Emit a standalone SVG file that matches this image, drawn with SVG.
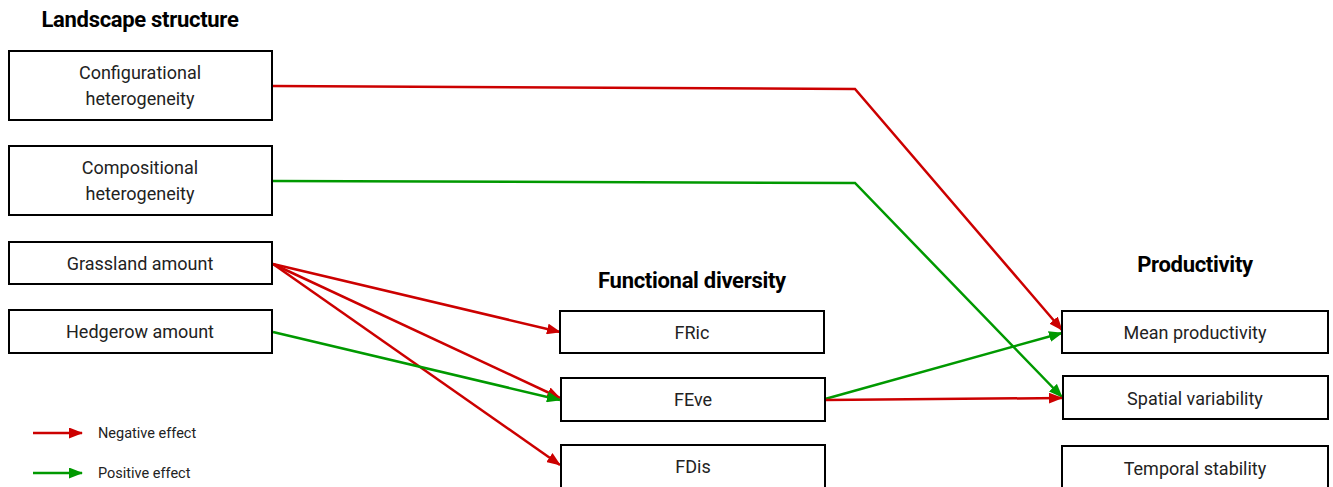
<svg xmlns="http://www.w3.org/2000/svg" width="1333" height="487" viewBox="0 0 1333 487">
<style>
.box{fill:#fff;stroke:#000;stroke-width:2}
.t{font-family:Roboto,"Liberation Sans",sans-serif;font-size:18px;fill:#222;text-anchor:middle}
.h{font-family:Roboto,"Liberation Sans",sans-serif;font-size:22px;font-weight:bold;fill:#000;text-anchor:middle;letter-spacing:-0.3px}
.lg{font-family:Roboto,"Liberation Sans",sans-serif;font-size:14.5px;fill:#222}
.neg{fill:none;stroke:#cc0000;stroke-width:2.5;marker-end:url(#ar)}
.pos{fill:none;stroke:#009900;stroke-width:2.5;marker-end:url(#ag)}
</style>
<defs>
<marker id="ar" viewBox="0 0 14 11" refX="13" refY="5.5" markerWidth="14" markerHeight="11" orient="auto" markerUnits="userSpaceOnUse">
<path d="M0,0 L14,5.5 L0,11 z" fill="#cc0000"/>
</marker>
<marker id="ag" viewBox="0 0 14 11" refX="13" refY="5.5" markerWidth="14" markerHeight="11" orient="auto" markerUnits="userSpaceOnUse">
<path d="M0,0 L14,5.5 L0,11 z" fill="#009900"/>
</marker>
</defs>
<rect width="1333" height="487" fill="#fff"/>
<text class="h" x="140" y="27">Landscape structure</text>
<text class="h" x="692" y="288">Functional diversity</text>
<text class="h" x="1195" y="272">Productivity</text>

<g id="connectors">
<path class="neg" d="M273,86 L855,89 L1062,330"/>
<path class="pos" d="M273,181 L855,183 L1062,397"/>
<path class="neg" d="M273,264 L560,332"/>
<path class="neg" d="M273,264 L560,398"/>
<path class="neg" d="M273,264 L560,465"/>
<path class="pos" d="M273,332 L560,400"/>
<path class="pos" d="M825,399 L1062,333"/>
<path class="neg" d="M825,400 L1062,398"/>
</g>

<g id="n-config"><rect class="box" x="9" y="51" width="263" height="69"/><text class="t" x="140" y="79">Configurational</text><text class="t" x="140" y="105">heterogeneity</text></g>
<g id="n-compo"><rect class="box" x="9" y="146" width="263" height="69"/><text class="t" x="140" y="174">Compositional</text><text class="t" x="140" y="200">heterogeneity</text></g>
<g id="n-grass"><rect class="box" x="9" y="242" width="263" height="42"/><text class="t" x="140" y="270">Grassland amount</text></g>
<g id="n-hedge"><rect class="box" x="9" y="310" width="263" height="43"/><text class="t" x="140" y="338">Hedgerow amount</text></g>
<g id="n-fric"><rect class="box" x="560" y="311" width="264" height="42"/><text class="t" x="692" y="339">FRic</text></g>
<g id="n-feve"><rect class="box" x="561" y="378" width="264" height="43"/><text class="t" x="693" y="406">FEve</text></g>
<g id="n-fdis"><rect class="box" x="561" y="445" width="264" height="50"/><text class="t" x="693" y="473">FDis</text></g>
<g id="n-mean"><rect class="box" x="1062" y="311" width="266" height="42"/><text class="t" x="1195" y="339">Mean productivity</text></g>
<g id="n-spatial"><rect class="box" x="1063" y="376" width="265" height="43"/><text class="t" x="1195" y="405">Spatial variability</text></g>
<g id="n-temporal"><rect class="box" x="1062" y="446" width="266" height="50"/><text class="t" x="1195" y="475">Temporal stability</text></g>

<g id="legend">
<path class="neg" d="M33,433 L82,433"/>
<text class="lg" x="98" y="438">Negative effect</text>
<path class="pos" d="M33,473 L82,473"/>
<text class="lg" x="98" y="478">Positive effect</text>
</g>
</svg>
